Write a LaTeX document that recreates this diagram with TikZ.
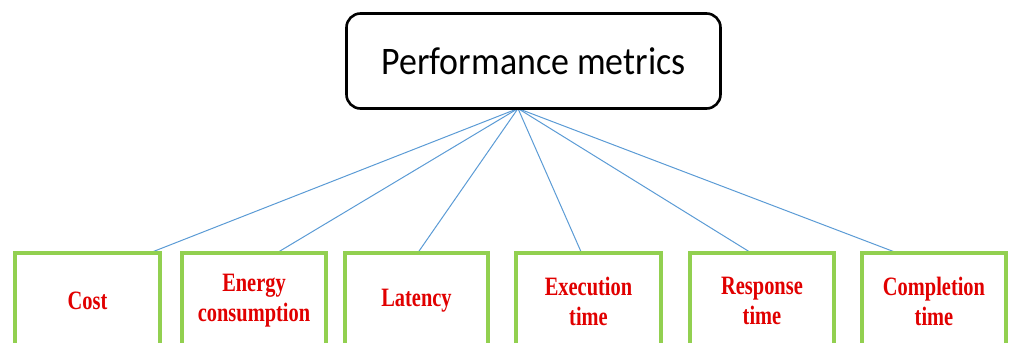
\documentclass[tikz,border=0pt]{standalone}
\usepackage{fontspec}
\newfontfamily\headfont[FakeStretch=0.92]{Carlito}
\newfontfamily\labelfont[FakeStretch=0.77]{Liberation Serif}
\definecolor{leafgreen}{RGB}{146,208,80}
\definecolor{labelred}{RGB}{225,0,0}
\definecolor{linkblue}{RGB}{91,155,213}
\tikzset{
  headbox/.style={draw=black, line width=2.6pt, rounded corners=14pt, fill=white,
    minimum width=374pt, minimum height=95pt, inner sep=0pt,
    font=\headfont\fontsize{39pt}{44pt}\selectfont},
  leafbox/.style={draw=leafgreen, line width=3.6pt, fill=white,
    minimum width=144pt, minimum height=96pt, inner sep=0pt, align=center,
    text=labelred, font=\labelfont\bfseries\fontsize{26.5pt}{30pt}\selectfont},
  link/.style={draw=linkblue, line width=1pt}
}
\begin{document}
\begin{tikzpicture}[x=1pt, y=-1pt]
\useasboundingbox (0,0) rectangle (1013,343);
% connectors first so the boxes cover their ends
\coordinate (hub) at (518,108.5);
\coordinate (e1) at (147,254);
\coordinate (e2) at (275,254);
\coordinate (e3) at (417,254);
\coordinate (e4) at (582,254);
\coordinate (e5) at (753,254);
\coordinate (e6) at (900,254);
\foreach \i in {1,...,6} \draw[link] (hub) -- (e\i);
% top box
\node[headbox] (top) at (533.5,61) {Performance metrics};
% leaf boxes
\node[leafbox, minimum width=145pt] (b1) at (87.5,301) {Cost};
\node[leafbox] (b2) at (254,301) {Energy\\consumption};
\node[leafbox, minimum width=143pt] (b3) at (416.5,301) {Latency};
\node[leafbox, minimum width=145pt] (b4) at (588.5,301) {Execution\\time};
\node[leafbox] (b5) at (762,301) {Response\\time};
\node[leafbox] (b6) at (934,301) {Completion\\time};
\end{tikzpicture}
\end{document}
